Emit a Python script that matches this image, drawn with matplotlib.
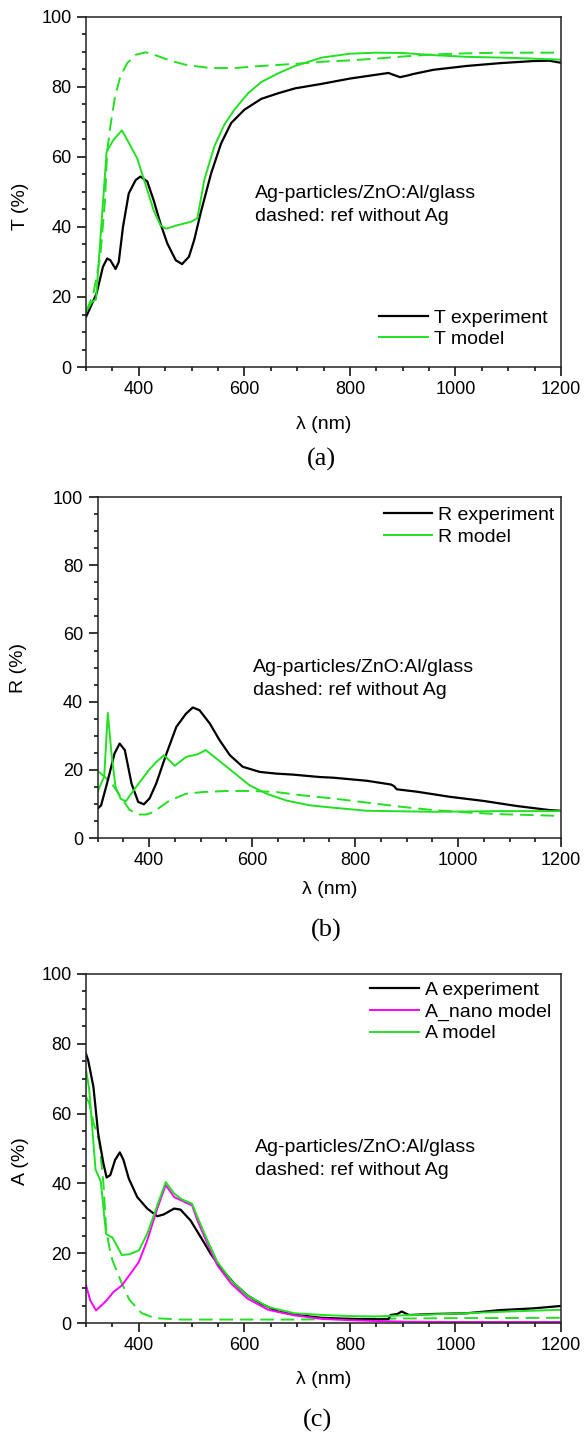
import matplotlib
matplotlib.use("Agg")
import matplotlib.pyplot as plt
from matplotlib.ticker import MultipleLocator

plt.rcParams['font.family'] = ['Liberation Sans', 'DejaVu Sans']

# ---- (a) transmission ----
wl_T_exp = [300, 320, 332, 340, 346, 356, 362, 370, 381, 394, 403, 416, 428, 441, 454, 470, 482, 495,
            505, 517, 537, 556, 575, 600, 632, 664, 696, 747, 800, 850, 873, 880, 895, 910, 920, 958,
            1021, 1084, 1147, 1178, 1200]
T_exp = [14.3, 21, 28.6, 31, 30.5, 28, 30, 40, 49.6, 53.4, 54.4, 53, 47.7, 41, 35.3, 30.5, 29.4, 31.5,
         36.3, 43.9, 55.3, 63.9, 69.7, 73.5, 76.6, 78.2, 79.6, 80.9, 82.4, 83.5, 84.0, 83.6, 82.8, 83.3,
         83.7, 84.9, 86, 86.8, 87.4, 87.5, 86.9]

wl_T_mod = [300, 311, 319, 339, 352, 368, 378, 397, 416, 428, 441, 451, 473, 499, 511, 524, 543, 562,
            581, 607, 632, 664, 696, 747, 800, 850, 900, 958, 1021, 1084, 1147, 1200]
T_mod = [15.7, 18.6, 19.3, 61.5, 64.9, 67.6, 64.9, 59.6, 50.6, 44.8, 40.5, 39.5, 40.5, 41.5, 42.5,
         53.4, 63, 69.2, 73.5, 78.2, 81.4, 83.9, 86, 88.4, 89.5, 89.8, 89.7, 89.1, 88.6, 88.4, 88.1, 87.8]

wl_T_ref = [300, 314, 327, 336, 340, 346, 355, 365, 378, 394, 413, 435, 460, 492, 537, 581, 632, 696,
            747, 800, 850, 900, 958, 1021, 1084, 1200]
T_ref = [15.7, 21, 31.5, 47.7, 61.5, 68.7, 77.3, 83, 86.8, 89.2, 89.9, 88.9, 87.5, 86.2, 85.4, 85.4,
         86, 86.6, 87.2, 87.6, 88.1, 88.7, 89.3, 89.6, 89.8, 89.8]

# ---- (b) reflection ----
wl_R_exp = [300, 307, 320, 333, 343, 353, 366, 379, 390, 401, 414, 434, 453, 472, 485, 498, 518, 537,
            557, 582, 615, 647, 680, 731, 758, 823, 870, 876, 881, 920, 984, 1049, 1114, 1178, 1200]
R_exp = [8.6, 9.6, 16.9, 24.8, 27.7, 25.8, 16, 10.6, 9.9, 11.6, 16, 24.8, 32.6, 36.5, 38.3, 37.5,
         33.6, 28.7, 24.3, 20.9, 19.4, 18.9, 18.6, 17.9, 17.7, 16.8, 15.7, 15.2, 14.3, 13.6, 12.1,
         10.9, 9.4, 8.2, 8.0]

wl_R_mod = [300, 307, 313, 320, 327, 335, 345, 355, 375, 400, 414, 429, 450, 472, 495, 510, 531, 563,
            595, 628, 667, 712, 758, 823, 952, 1081, 1200]
R_mod = [13.5, 16, 18, 36.7, 25, 15, 11.5, 10.8, 15, 20, 22.3, 24.3, 21.2, 23.8, 24.6, 25.8, 23.3,
         19.4, 15.5, 13, 11, 9.6, 8.9, 8.0, 7.7, 7.9, 7.9]

wl_R_ref = [300, 313, 330, 350, 362, 380, 395, 408, 440, 472, 505, 550, 600, 647, 693, 758, 823, 888,
            952, 1017, 1081, 1200]
R_ref = [19.7, 18.1, 15.5, 11, 8.3, 6.9, 6.9, 7.6, 11, 13, 13.5, 13.8, 13.8, 13.5, 12.6, 11.6, 10.4,
         9.2, 8.2, 7.5, 7.0, 6.5]

# ---- (c) absorption ----
wl_A_exp = [300, 304, 314, 323, 333, 339, 346, 355, 364, 371, 381, 397, 416, 435, 447, 467, 479, 498,
            517, 536, 556, 581, 606, 632, 664, 695, 746, 800, 850, 873, 877, 890, 898, 912, 958, 1021,
            1084, 1147, 1200]
A_exp = [77.1, 75.3, 67.7, 54.3, 45.7, 41.7, 42.4, 46.7, 48.9, 46.7, 41.4, 36.1, 32.8, 30.6, 31.1,
         32.8, 32.5, 29.4, 24.7, 19.9, 15.6, 11.3, 7.9, 5.5, 3.3, 2.4, 1.5, 1.2, 1.1, 1.1, 2.3, 2.6,
         3.3, 2.3, 2.6, 2.8, 3.7, 4.2, 4.9]

wl_A_nano = [300, 308, 319, 339, 352, 368, 384, 400, 416, 435, 451, 467, 482, 501, 511, 530, 549, 575,
             606, 645, 695, 746, 800, 900, 1000, 1200]
A_nano = [10.8, 6.5, 3.6, 6.5, 8.9, 10.8, 14.1, 17.5, 23.7, 32.8, 39.5, 36.1, 35, 33.7, 29.4, 22.8,
          16.5, 11.3, 7, 3.8, 2.2, 1.2, 0.8, 0.4, 0.3, 0.3]

wl_A_mod = [300, 306, 318, 328, 338, 350, 368, 382, 400, 416, 435, 451, 467, 482, 501, 511, 530, 549,
            575, 606, 645, 695, 750, 800, 850, 900, 1000, 1100, 1200]
A_mod = [72.5, 67, 44, 40.5, 25.5, 24.5, 19.5, 19.7, 20.8, 25.6, 33.7, 40.4, 37.1, 35.4, 34.2, 30.4,
         23.7, 17.5, 12.2, 7.9, 4.6, 2.8, 2.3, 2.0, 1.9, 2.2, 2.7, 3.3, 3.8]

wl_A_ref = [300, 306, 315, 325, 333, 338, 345, 350, 366, 382, 405, 430, 480, 600, 700, 800, 900, 1000, 1200]
A_ref = [64.8, 63, 57, 52, 40, 27, 21, 18, 12, 6.7, 2.9, 1.4, 1.0, 1.0, 1.0, 1.2, 1.3, 1.4, 1.5]

black = 'black'
green = '#22e022'
magenta = '#ff00ff'
note = 'Ag-particles/ZnO:Al/glass\ndashed: ref without Ag'

fig = plt.figure(figsize=(5.86, 14.37), dpi=100)
ax_a = fig.add_axes([0.1468, 0.7446, 0.8106, 0.2436])
ax_b = fig.add_axes([0.1664, 0.4168, 0.7910, 0.2373])
ax_c = fig.add_axes([0.1468, 0.0793, 0.8106, 0.2429])


def style(ax, ylab, ylab_x, ylab_y, xlab_y):
    ax.set_xlim(300, 1200)
    ax.set_ylim(0, 100)
    ax.xaxis.set_major_locator(MultipleLocator(200))
    ax.xaxis.set_minor_locator(MultipleLocator(50))
    ax.yaxis.set_major_locator(MultipleLocator(20))
    ax.yaxis.set_minor_locator(MultipleLocator(5))
    ax.tick_params(which='major', direction='out', length=6.3, width=1.1, labelsize=13, pad=4)
    ax.tick_params(which='minor', direction='out', length=3, width=1.1)
    for s in ax.spines.values():
        s.set_linewidth(1.1)
        s.set_color('#222222')
    ax.set_ylabel(ylab, fontsize=14, rotation=90, ha='center', va='center')
    ax.yaxis.set_label_coords(ylab_x, ylab_y)
    ax.set_xlabel('\u03bb (nm)', fontsize=14, va='center')
    ax.xaxis.set_label_coords(0.5, xlab_y)


dash = dict(ls=(0, (7, 3.5)))
leg = dict(loc='upper left', frameon=False, fontsize=14, handlelength=2.5, handletextpad=0.3,
           labelspacing=0.2, borderpad=0, borderaxespad=0)

# (a)
ax_a.plot(wl_T_ref, T_ref, color=green, lw=1.4, **dash)
ax_a.plot(wl_T_exp, T_exp, color=black, lw=1.6, label='T experiment')
ax_a.plot(wl_T_mod, T_mod, color=green, lw=1.4, label='T model')
style(ax_a, 'T (%)', -0.138, 0.46, -0.163)
ax_a.legend(bbox_to_anchor=(0.617, 0.166), **leg)
ax_a.text(0.356, 0.464, note, transform=ax_a.transAxes, fontsize=14, va='center', linespacing=1.45)

# (b)
ax_b.plot(wl_R_ref, R_ref, color=green, lw=1.4, **dash)
ax_b.plot(wl_R_exp, R_exp, color=black, lw=1.6, label='R experiment')
ax_b.plot(wl_R_mod, R_mod, color=green, lw=1.4, label='R model')
style(ax_b, 'R (%)', -0.1715, 0.5, -0.152)
ax_b.legend(bbox_to_anchor=(0.617, 0.972), **leg)
ax_b.text(0.336, 0.466, note, transform=ax_b.transAxes, fontsize=14, va='center', linespacing=1.45)

# (c)
ax_c.plot(wl_A_ref, A_ref, color=green, lw=1.4, **dash)
ax_c.plot(wl_A_exp, A_exp, color=black, lw=1.6, label='A experiment')
ax_c.plot(wl_A_nano, A_nano, color=magenta, lw=1.4, label='A_nano model')
ax_c.plot(wl_A_mod, A_mod, color=green, lw=1.4, label='A model')
style(ax_c, 'A (%)', -0.138, 0.464, -0.163)
ax_c.legend(bbox_to_anchor=(0.598, 0.978), **leg)
ax_c.text(0.356, 0.47, note, transform=ax_c.transAxes, fontsize=14, va='center', linespacing=1.45)

for lab, x, y in [('(a)', 0.549, 0.6806), ('(b)', 0.556, 0.3528), ('(c)', 0.541, 0.0118)]:
    fig.text(x, y, lab, family='Liberation Serif', fontsize=19, ha='center', va='center')

fig.savefig('out.png', dpi=100)
